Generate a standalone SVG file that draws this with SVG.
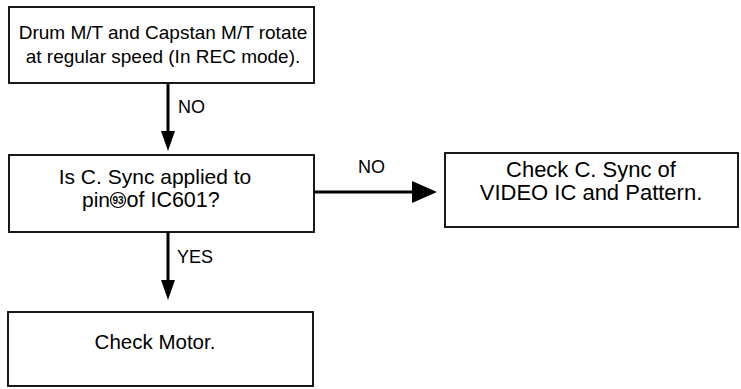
<svg xmlns="http://www.w3.org/2000/svg" width="741" height="389" viewBox="0 0 741 389">
<style>
.box{fill:#fff;stroke:#000;stroke-width:1.8}
.t{font-family:"Liberation Sans",Arial,sans-serif;fill:#000;text-anchor:middle}
.l{font-family:"Liberation Sans",Arial,sans-serif;font-size:18px;fill:#000}
.c{stroke:#000;stroke-width:3;fill:none}
.ah{fill:#000}
</style>
<rect width="741" height="389" fill="#fff"/>
<g id="n1">
<rect class="box" x="9" y="7" width="305" height="76"/>
<text class="t" x="163" y="39" font-size="19">Drum M/T and Capstan M/T rotate</text>
<text class="t" x="163" y="63" font-size="19">at regular speed (In REC mode).</text>
</g>
<g id="n2">
<rect class="box" x="9" y="155" width="305" height="77"/>
<text class="t" x="155" y="184" font-size="21">Is C. Sync applied to</text>
<text class="t" x="110" y="207" font-size="21" style="text-anchor:end">pin</text>
<circle cx="118" cy="200" r="7.5" fill="none" stroke="#000" stroke-width="1.2"/>
<text class="t" x="118" y="203.5" font-size="10" font-weight="bold">93</text>
<text class="t" x="126.5" y="207" font-size="21.5" style="text-anchor:start">of IC601?</text>
</g>
<g id="n3">
<rect class="box" x="445" y="153" width="293" height="74"/>
<text class="t" x="591" y="177" font-size="22">Check C. Sync of</text>
<text class="t" x="591" y="200" font-size="22">VIDEO IC and Pattern.</text>
</g>
<g id="n4">
<rect class="box" x="8" y="312" width="305" height="74"/>
<text class="t" x="155" y="349" font-size="20.5">Check Motor.</text>
</g>
<g id="connectors">
<line class="c" x1="168" y1="83" x2="168" y2="132"/>
<path class="ah" d="M161,131 L175,131 L168,151 Z"/>
<text class="l" x="178" y="113">NO</text>
<line class="c" x1="314" y1="192" x2="413" y2="192"/>
<path class="ah" d="M412,181 L412,203 L437,192 Z"/>
<text class="l" x="358" y="173">NO</text>
<line class="c" x1="168" y1="232" x2="168" y2="281"/>
<path class="ah" d="M161,280 L175,280 L168,300 Z"/>
<text class="l" x="177" y="263">YES</text>
</g>
</svg>
